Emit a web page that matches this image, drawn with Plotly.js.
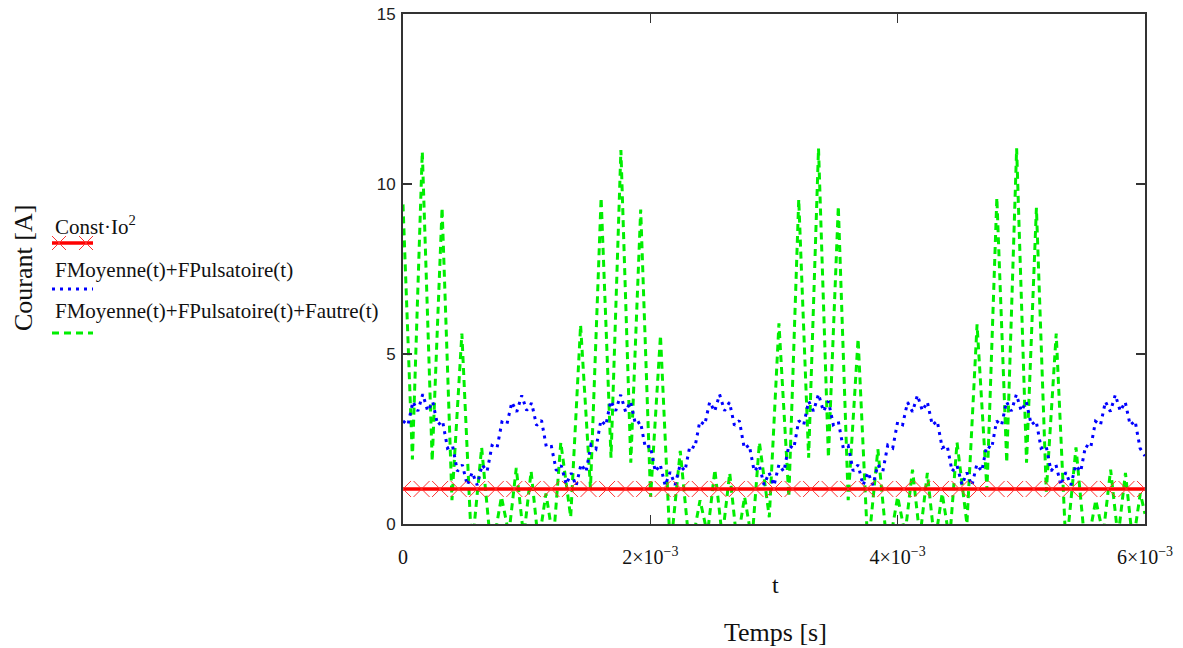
<!DOCTYPE html>
<html>
<head>
<meta charset="utf-8">
<script src="https://cdn.plot.ly/plotly-3.0.1.min.js"></script>
<style>html,body{margin:0;padding:0;background:#fff;}#chart{width:1183px;height:648px;}</style>
</head>
<body>
<div id="chart"></div>
<script>
// ---- Data (time in ms, current in A) ----
const xTickVals = [0, 0.002, 0.004, 0.006];
const xTickText = ['0', '2×10<sup>−3</sup>', '4×10<sup>−3</sup>', '6×10<sup>−3</sup>'];
const yTickVals = [0, 5, 10, 15];
const yTickText = ['0', '5', '10', '15'];

// Const·Io^2 (constant level), markers every 0.15 ms
const CONST_IO2 = 1.03;
const RED_STEP_MS = 0.15;
const RED_COUNT = 41;

// FMoyenne(t)+FPulsatoire(t), sampled every 0.04 ms (fast ripple on a slow wave)
const BLUE_STEP_MS = 0.04;
const blueVals = [
  3.03, 2.91, 3.60, 3.32, 3.82, 3.32, 3.60, 2.91, 3.03, 2.23, 2.31, 1.55, 1.74, 1.14, 1.52, 1.14, 1.74, 1.55, 2.31, 2.23,
  3.00, 2.93, 3.58, 3.30, 3.78, 3.34, 3.56, 2.90, 3.05, 2.25, 2.28, 1.57, 1.72, 1.16, 1.50, 1.12, 1.76, 1.53, 2.33, 2.21,
  3.05, 2.90, 3.62, 3.33, 3.80, 3.30, 3.60, 2.93, 3.01, 2.24, 2.30, 1.54, 1.75, 1.13, 1.53, 1.15, 1.73, 1.56, 2.30, 2.24,
  3.02, 2.92, 3.59, 3.31, 3.81, 3.33, 3.58, 2.90, 3.04, 2.22, 2.32, 1.55, 1.73, 1.15, 1.51, 1.13, 1.75, 1.54, 2.31, 2.22,
  3.04, 2.91, 3.61, 3.32, 3.82, 3.31, 3.61, 2.92, 3.02, 2.23, 2.30, 1.56, 1.74, 1.14, 1.52, 1.14, 1.74, 1.55, 2.32, 2.23,
  3.01, 2.92, 3.58, 3.30, 3.79, 3.33, 3.59, 2.91, 3.03, 2.24, 2.31, 1.55, 1.72, 1.15, 1.51, 1.13, 1.75, 1.55, 2.30, 2.22,
  3.03, 2.90, 3.60, 3.32, 3.81, 3.32, 3.60, 2.92, 3.03, 2.23, 2.30, 1.56, 1.74, 1.14, 1.52, 1.14, 1.73, 1.54, 2.31, 2.23,
  3.02, 2.91, 3.60, 3.31, 3.80, 3.32, 3.59, 2.91, 3.03, 2.23, 2.00
];

// FMoyenne(t)+FPulsatoire(t)+Fautre(t): peaks and troughs
const greenT = [
  0.000, 0.076, 0.156, 0.236, 0.316, 0.396, 0.476, 0.556, 0.636, 0.716, 0.796, 0.856, 0.916, 0.976, 1.036, 1.096, 1.156, 1.216, 1.276, 1.356, 1.436,
  1.516, 1.602, 1.682, 1.762, 1.842, 1.922, 2.002, 2.082, 2.162, 2.242, 2.322, 2.402, 2.462, 2.522, 2.582, 2.642, 2.702, 2.762, 2.822, 2.882, 2.962, 3.040,
  3.120, 3.200, 3.280, 3.360, 3.440, 3.520, 3.600, 3.680, 3.760, 3.840, 3.920, 4.000, 4.060, 4.120, 4.180, 4.240, 4.300, 4.360, 4.420, 4.480, 4.560, 4.642,
  4.722, 4.802, 4.882, 4.962, 5.042, 5.122, 5.202, 5.282, 5.362, 5.442, 5.522, 5.602, 5.662, 5.722, 5.782, 5.842, 5.902, 5.962, 6.000
];
const greenVals = [
  9.40, 1.90, 10.95, 1.85, 9.30, 0.70, 5.60, -0.80, 2.25, -0.90, 0.80, -0.30, 1.65, -0.40, 1.55, -0.60, 0.90, -0.50, 2.40, 0.20, 5.85,
  1.05, 9.60, 1.95, 11.00, 1.80, 9.25, 0.80, 5.55, -0.80, 2.15, -0.90, 0.70, -0.30, 1.60, -0.40, 1.50, -0.60, 0.80, -0.50, 2.40, 0.20, 5.90,
  0.80, 9.55, 1.95, 11.05, 1.95, 9.35, 0.70, 5.45, -0.80, 2.20, -0.90, 0.80, -0.30, 1.60, -0.40, 1.50, -0.60, 0.90, -0.50, 2.40, 0.00, 5.87,
  1.00, 9.60, 1.80, 11.05, 1.80, 9.30, 0.95, 5.60, -0.80, 2.25, -0.90, 0.70, -0.30, 1.60, -0.40, 1.50, -0.60, 0.90, 0.30
];

const legendNames = ['Const·Io<sup>2</sup>', 'FMoyenne(t)+FPulsatoire(t)', 'FMoyenne(t)+FPulsatoire(t)+Fautre(t)'];

// ---- Build traces ----
const MS = 1e-3;
const redT = Array.from({length: RED_COUNT}, (_, i) => i * RED_STEP_MS * MS);
const redV = redT.map(() => CONST_IO2);
const blueT = blueVals.map((_, i) => i * BLUE_STEP_MS * MS);
const greenTs = greenT.map(v => v * MS);

const traces = [
  {x: greenTs, y: greenVals, type: 'scatter', mode: 'lines', name: legendNames[2],
   line: {color: '#00ee00', width: 3, dash: '7px,5px'}},
  {x: blueT, y: blueVals, type: 'scatter', mode: 'lines', name: legendNames[1],
   line: {color: '#0000ff', width: 3, dash: '3px,5px'}},
  {x: redT, y: redV, type: 'scatter', mode: 'lines+markers', name: legendNames[0],
   line: {color: '#ff0000', width: 3.5},
   marker: {symbol: 'x-thin', size: 16, color: '#ff3030', line: {color: '#ff3030', width: 1}}}
];

// helpers for paper coordinates of layout decorations (legend block on the left)
const L = 403, R = 1145, T = 14, B = 524;
const px = v => (v - L) / (R - L);
const py = v => (B - v) / (B - T);

const serif = 'Liberation Serif, Times New Roman, serif';
const annotations = [
  {text: legendNames[0], x: px(53), y: py(225), xref: 'paper', yref: 'paper', xanchor: 'left', yanchor: 'middle', showarrow: false, font: {family: serif, size: 21, color: '#111'}},
  {text: legendNames[1], x: px(53), y: py(270), xref: 'paper', yref: 'paper', xanchor: 'left', yanchor: 'middle', showarrow: false, font: {family: serif, size: 21, color: '#111'}},
  {text: legendNames[2], x: px(53), y: py(311), xref: 'paper', yref: 'paper', xanchor: 'left', yanchor: 'middle', showarrow: false, font: {family: serif, size: 21, color: '#111'}},
  {text: 'Courant [A]', x: px(23), y: py(268), xref: 'paper', yref: 'paper', xanchor: 'center', yanchor: 'middle', textangle: -90, showarrow: false, font: {family: serif, size: 26, color: '#111'}},
  {text: 'Temps [s]', x: px(775), y: py(632), xref: 'paper', yref: 'paper', xanchor: 'center', yanchor: 'middle', showarrow: false, font: {family: serif, size: 26, color: '#111'}},
  {text: 't', x: px(775), y: py(585), xref: 'paper', yref: 'paper', xanchor: 'center', yanchor: 'middle', showarrow: false, font: {family: serif, size: 24, color: '#111'}}
];

function xMark(cx, cy, h) {
  return [
    {type: 'line', xref: 'paper', yref: 'paper', x0: px(cx - h), y0: py(cy - h), x1: px(cx + h), y1: py(cy + h), line: {color: '#ff3030', width: 1}},
    {type: 'line', xref: 'paper', yref: 'paper', x0: px(cx - h), y0: py(cy + h), x1: px(cx + h), y1: py(cy - h), line: {color: '#ff3030', width: 1}}
  ];
}
const shapes = [
  {type: 'line', xref: 'paper', yref: 'paper', x0: px(52), y0: py(243), x1: px(93), y1: py(243), line: {color: '#ff0000', width: 3.5}},
  ...xMark(59, 243, 7), ...xMark(86, 243, 7),
  {type: 'line', xref: 'paper', yref: 'paper', x0: px(52), y0: py(289), x1: px(93), y1: py(289), line: {color: '#0000ff', width: 3, dash: '3px,5px'}},
  {type: 'line', xref: 'paper', yref: 'paper', x0: px(52), y0: py(333), x1: px(93), y1: py(333), line: {color: '#00ee00', width: 3, dash: '7px,5px'}}
];

const layout = {
  width: 1183, height: 648,
  margin: {l: L, r: 1183 - R, t: T, b: 648 - B, pad: 0},
  paper_bgcolor: '#ffffff', plot_bgcolor: '#ffffff',
  showlegend: false,
  xaxis: {
    range: [0, 0.006], tickvals: xTickVals, ticktext: xTickText,
    ticks: 'inside', ticklen: 9, tickwidth: 1.5, tickcolor: '#333',
    showline: true, linecolor: '#333', linewidth: 2, mirror: 'ticks',
    showgrid: false, zeroline: false, ticklabelstandoff: 14,
    tickfont: {family: serif, size: 20, color: '#111'}
  },
  yaxis: {
    range: [0, 15], tickvals: yTickVals, ticktext: yTickText,
    ticks: 'inside', ticklen: 9, tickwidth: 1.5, tickcolor: '#333',
    showline: true, linecolor: '#333', linewidth: 2, mirror: 'ticks',
    showgrid: false, zeroline: false, ticklabelstandoff: 2,
    tickfont: {family: 'Liberation Sans, Arial, sans-serif', size: 17, color: '#222'}
  },
  annotations: annotations,
  shapes: shapes
};

Plotly.newPlot('chart', traces, layout, {staticPlot: true, displayModeBar: false});
</script>
</body>
</html>
